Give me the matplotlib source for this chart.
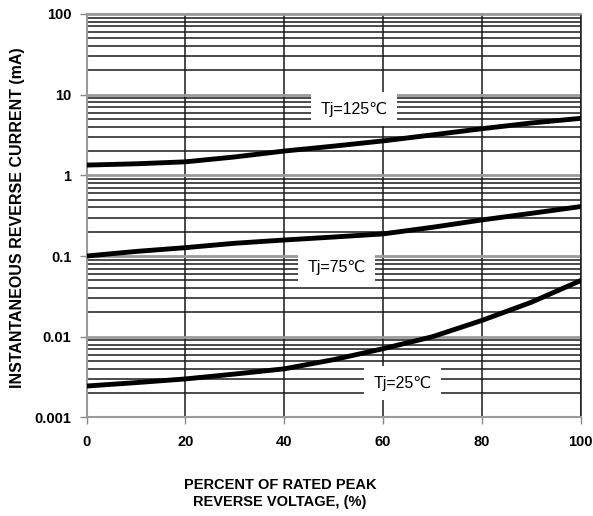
import matplotlib
matplotlib.use("Agg")
import matplotlib.pyplot as plt
from matplotlib.ticker import LogLocator, NullFormatter, FixedLocator
from matplotlib import font_manager

# Kurvenwerte
x_pct = [0, 10, 20, 30, 40, 50, 60, 70, 80, 90, 100]
i_125 = [1.34, 1.39, 1.47, 1.69, 2.0, 2.3, 2.67, 3.17, 3.78, 4.45, 5.08]
i_75 = [0.100, 0.114, 0.127, 0.144, 0.158, 0.172, 0.188, 0.227, 0.28, 0.338, 0.41]
i_25 = [0.00245, 0.0027, 0.0030, 0.00345, 0.0040, 0.0052, 0.0071, 0.010, 0.0159, 0.0267, 0.0496]

y_ticks = [0.001, 0.01, 0.1, 1, 10, 100]
y_ticklabels = ["0.001", "0.01", "0.1", "1", "10", "100"]
x_ticks = [0, 20, 40, 60, 80, 100]

labels = ["Tj=125℃", "Tj=75℃", "Tj=25℃"]
label_pos = [(54.2, 6.6), (50.6, 0.072), (64.0, 0.00265)]

names = {f.name for f in font_manager.fontManager.ttflist}
narrow = "Liberation Sans Narrow" if "Liberation Sans Narrow" in names else "Liberation Sans"
plt.rcParams["font.family"] = [narrow, "DejaVu Sans"]

fig = plt.figure(figsize=(5.93, 5.16), dpi=100)
ax = fig.add_axes([0.146, 0.191, 0.833, 0.782])

ax.set_yscale("log")
ax.set_xlim(0, 100)
ax.set_ylim(0.001, 100)

ax.yaxis.set_major_locator(FixedLocator(y_ticks))
ax.set_yticklabels(y_ticklabels, fontsize=10.5, fontweight="bold")
ax.yaxis.set_minor_locator(LogLocator(base=10, subs=range(2, 10)))
ax.yaxis.set_minor_formatter(NullFormatter())
ax.set_xticks(x_ticks)
ax.set_xticklabels([str(t) for t in x_ticks], fontsize=10.5, fontweight="bold")

ax.grid(True, which="major", axis="y", color="#9a9a9a", lw=2.0)
ax.grid(True, which="minor", axis="y", color="#1a1a1a", lw=1.1)
ax.grid(True, which="major", axis="x", color="#1a1a1a", lw=1.1)
ax.tick_params(axis="both", which="major", length=5, width=1, color="#888888", pad=8)
ax.tick_params(axis="y", which="minor", length=0)
ax.tick_params(axis="y", pad=6)

for s in ["top", "bottom", "left"]:
    ax.spines[s].set_color("#9a9a9a")
    ax.spines[s].set_linewidth(1.5)
ax.spines["right"].set_color("#1a1a1a")
ax.spines["right"].set_linewidth(1.1)

for yv in (i_125, i_75, i_25):
    ax.plot(x_pct, yv, color="black", lw=3.5, solid_capstyle="round", zorder=3)

for txt, (tx, ty) in zip(labels, label_pos):
    ax.text(tx, ty, txt, fontsize=11.5, ha="center", va="center", zorder=4,
            bbox=dict(boxstyle="square,pad=0.6", fc="white", ec="none"))

fig.text(0.472, 0.043, "PERCENT OF RATED PEAK\nREVERSE VOLTAGE, (%)", ha="center",
         va="center", fontsize=10.5, fontweight="bold", linespacing=1.25)
fig.text(0.03, 0.579, "INSTANTANEOUS REVERSE CURRENT (mA)", rotation=90, ha="center",
         va="center", fontsize=11.5, fontweight="bold")

fig.savefig("out.png", dpi=100)
